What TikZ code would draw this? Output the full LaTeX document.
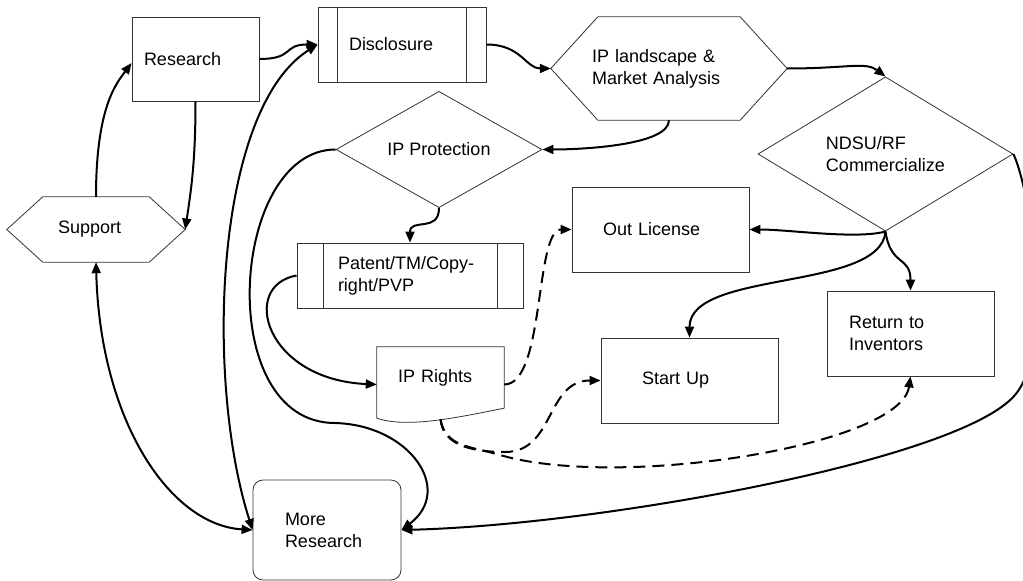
\documentclass[tikz,border=0pt]{standalone}
\usepackage{fontspec}
\setmainfont{Liberation Sans}
\usetikzlibrary{arrows.meta,shapes.geometric}

\begin{document}
\begin{tikzpicture}[x=1pt,y=-1pt,
    every node/.style={font=\fontsize{18}{22}\selectfont},
    box/.style={rectangle,draw=black!80,line width=0.8pt,align=left,inner ysep=0pt},
    frame/.style={rectangle,align=left,inner ysep=0pt},
    dec/.style={diamond,draw=black!80,line width=0.8pt,inner sep=0pt},
    outline/.style={draw=black!80,line width=0.8pt},
    flow/.style={line width=2pt,-{Triangle[length=11pt,width=9pt]}},
    twoway/.style={line width=2pt,{Triangle[length=11pt,width=9pt]}-{Triangle[length=11pt,width=9pt]}},
    maybe/.style={flow,dash pattern=on 12pt off 7pt}]
  \clip (0,0) rectangle (1023,581);
  % shapes
  \node[frame,minimum height=65pt,text width=76pt,inner xsep=51pt] (sup) at (96,229.5) {Support};
  \node[box,minimum height=84pt,text width=103pt,inner xsep=12pt] (res) at (195.5,59) {Research};
  \node[box,minimum height=75pt,text width=106pt,inner xsep=31pt] (disc) at (402,44.5) {Disclosure};
  \node[frame,minimum height=103pt,text width=154pt,inner xsep=41pt] (land) at (669,68.5) {IP landscape \&\\Market Analysis};
  \node[dec,minimum width=206pt,minimum height=113pt] (prot) at (439,149.5) {IP Protection};
  \node[dec,minimum width=255pt,minimum height=122pt,align=left] (ndsu) at (885.5,154) {NDSU/RF\\Commercialize};
  \node[box,minimum height=65pt,text width=144pt,inner xsep=41pt] (pat) at (410,275.5) {Patent/TM/Copy-\\right/PVP};
  \node[frame,minimum height=61pt,text width=85pt,inner xsep=21pt] (ipr) at (440.5,377.5) {IP Rights};
  \node[box,minimum height=85pt,text width=115pt,inner xsep=31pt] (out) at (660.5,229.5) {Out License};
  \node[box,minimum height=85pt,text width=95pt,inner xsep=41pt] (su) at (689.5,380.5) {Start Up};
  \node[box,minimum height=85pt,text width=123pt,inner xsep=22pt] (ret) at (910.5,333.5) {Return to\\Inventors};
  \node[box,rounded corners=10pt,minimum height=100pt,text width=84pt,inner xsep=32pt] (more) at (327,530) {More\\Research};
  \draw[outline] (sup.west) -- ([xshift=36pt]sup.north west) -- ([xshift=-36pt]sup.north east) -- (sup.east)
      -- ([xshift=-36pt]sup.south east) -- ([xshift=36pt]sup.south west) -- cycle;
  \draw[outline] (land.west) -- ([xshift=47pt]land.north west) -- ([xshift=-47pt]land.north east) -- (land.east)
      -- ([xshift=-47pt]land.south east) -- ([xshift=47pt]land.south west) -- cycle;
  \draw[outline] ([xshift=20pt]disc.north west) -- ([xshift=20pt]disc.south west)
      ([xshift=-20pt]disc.north east) -- ([xshift=-20pt]disc.south east);
  \draw[outline] ([xshift=27pt]pat.north west) -- ([xshift=27pt]pat.south west)
      ([xshift=-26pt]pat.north east) -- ([xshift=-26pt]pat.south east);
  \draw[outline] (ipr.south east) -- (ipr.north east) -- (ipr.north west) -- ([yshift=-10pt]ipr.south west)
      .. controls +(30,10) and +(-50,10) .. (ipr.south east);
  % connectors
  \coordinate (turn) at (335,423);
  \coordinate (dipa) at (505,452);
  \coordinate (dipb) at (500,455);
  \coordinate (swing) at (1015,395);
  \draw[flow] (sup.north) .. controls +(0,-90) and +(-15,20) .. ([yshift=-4pt]res.west);
  \draw[flow] (res.south) .. controls +(0,60) and +(6,-40) .. (sup.east);
  \draw[flow] (res.east) .. controls +(35,0) and +(-35,0) .. (disc.west);
  \draw[twoway] (more.west) .. controls +(-48,-150) and +(-103,65) .. (disc.west);
  \draw[flow] (disc.east) .. controls +(35,0) and +(-25,0) .. (land.west);
  \draw[flow] (land.east) .. controls +(60,0) and +(-20,-15) .. (ndsu.north);
  \draw[flow] (land.south) .. controls +(0,25) and +(40,0) .. (prot.east);
  \draw[flow] (prot.west) .. controls +(-106,0) and +(-122,0) .. (turn)
      .. controls +(75,2) and +(53,-40) .. (more.east);
  \draw[flow] (prot.south) .. controls +(0,25) and +(0,-25) .. (pat.north);
  \draw[flow] (pat.west) .. controls +(-57,10) and +(-112,-5) .. ([yshift=-7pt]ipr.west);
  \draw[maybe] ([yshift=-7pt]ipr.east) .. controls +(41,0) and +(-37,0) .. (out.west);
  \draw[maybe] ([yshift=-11pt]ipr.south) .. controls +(2,25) and +(-35,0) .. (dipa)
      .. controls +(50,0) and +(-55,0) .. (su.west);
  \draw[maybe] ([yshift=-11pt]ipr.south) .. controls +(5,28) and +(-30,-9) .. (dipb)
      .. controls +(120,35) and +(-10,69) .. (ret.south);
  \draw[flow] (ndsu.south) .. controls +(-30,8) and +(40,0) .. (out.east);
  \draw[flow] (ndsu.south) .. controls +(-5,60) and +(0,-68) .. (su.north);
  \draw[flow] (ndsu.south) .. controls +(5,35) and +(0,-35) .. (ret.north);
  \draw[flow] (ndsu.east) .. controls +(17,36) and +(40,-47) .. (swing)
      .. controls +(-55,65) and +(199,-5) .. (more.east);
  \draw[twoway] (sup.south) .. controls +(4,158) and +(-83,-5) .. (more.west);
\end{tikzpicture}
\end{document}
